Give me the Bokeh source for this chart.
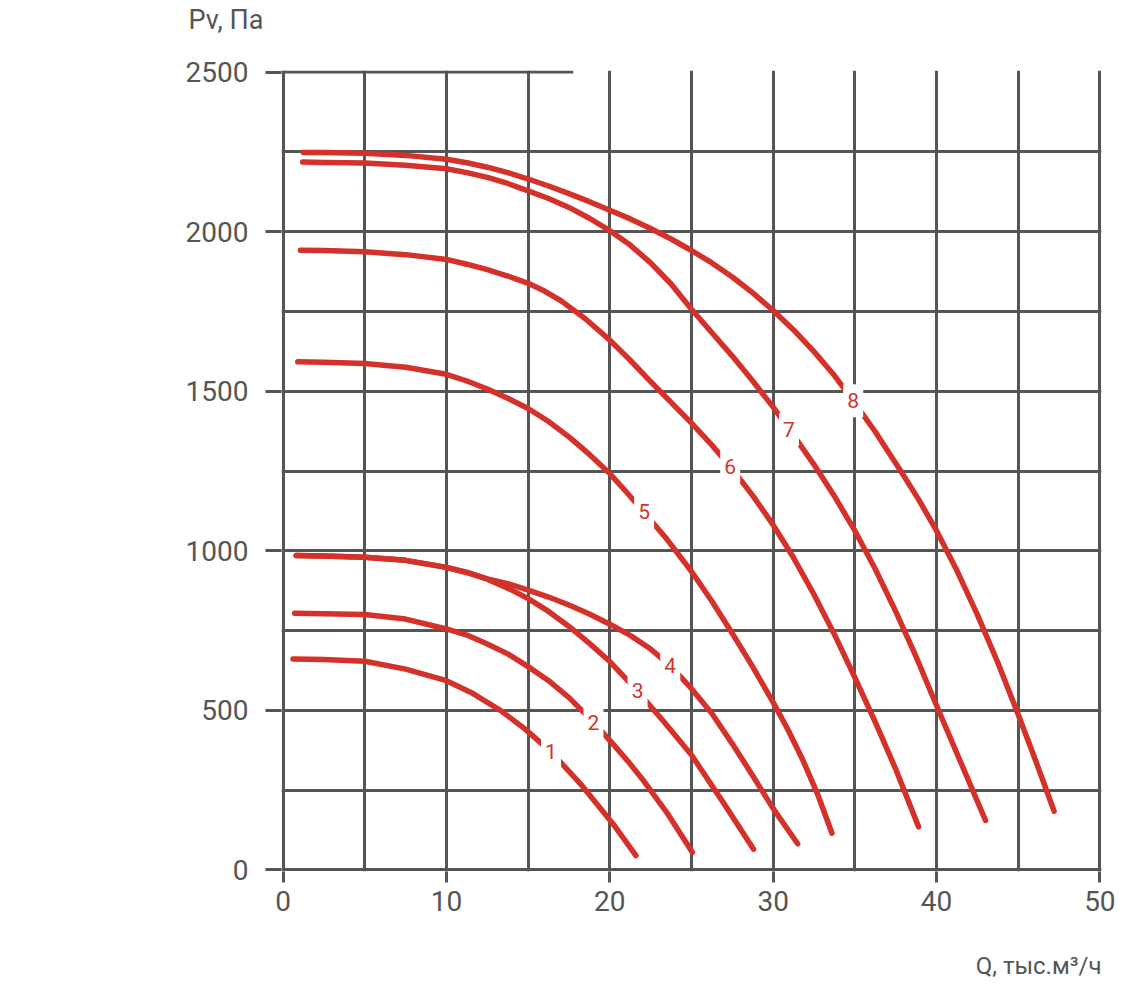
from bokeh.plotting import figure
from bokeh.models import Range1d, FixedTicker, Title
from bokeh.core.properties import value
from bokeh.embed import file_html
from bokeh.resources import INLINE

# ---- data (Q in thousand m3/h, Pv in Pa) ----
q1 = [0.6, 2.5, 5, 7.5, 10, 11.5, 13.3, 14.8, 16.4, 18.3, 20.2, 21.6]
p1 = [661, 659, 654, 629, 593, 556, 500, 442, 370, 264, 144, 45]

q2 = [0.7, 2.5, 5, 7.5, 10, 11.25, 12.5, 13.75, 15, 16.25, 17.5, 19.0, 20.2, 21.1, 22.06, 23.5, 25.05]
p2 = [804, 803, 800, 786, 755, 736, 708, 677, 637, 593, 540, 463, 394, 341, 280, 179, 55]

q3 = [0.8, 2.5, 5, 7.5, 10, 11.25, 12.5, 13.75, 15, 16.25, 17.5, 18.75, 20, 21.7, 23.3, 25, 27, 28.8]
p3 = [985, 984, 980, 970, 948, 932, 911, 883, 850, 810, 763, 710, 653, 560, 465, 360, 207, 65]

q4 = [0.8, 2.5, 5, 7.5, 10, 11.25, 12.5, 13.75, 15, 16.25, 17.5, 18.75, 20, 21.25, 22.5, 23.7, 25, 26.25, 27.5, 28.75, 30, 31.5]
p4 = [985, 984, 980, 970, 948, 932, 912, 897, 877, 855, 830, 802, 770, 735, 692, 640, 568, 490, 395, 295, 192, 82]

q5 = [0.9, 2.5, 5, 7.5, 10, 11.25, 12.5, 13.75, 15, 16.25, 17.5, 18.75, 20, 21, 22.1, 23.5, 25, 26.25, 27.5, 28.75, 30, 30.9, 31.8, 32.7, 33.6]
p5 = [1592, 1591, 1587, 1575, 1553, 1532, 1507, 1478, 1446, 1405, 1357, 1302, 1242, 1185, 1120, 1036, 935, 842, 741, 636, 525, 440, 346, 240, 115]

q6 = [1.06, 2.5, 5, 7.5, 10, 11.25, 12.5, 13.75, 15, 16, 17, 18.5, 20, 21.25, 22.5, 23.75, 25, 26.25, 27.5, 28.75, 30, 31.25, 32.5, 33.75, 35, 36.25, 37.5, 38.9]
p6 = [1942, 1941, 1937, 1928, 1913, 1898, 1881, 1861, 1838, 1814, 1784, 1727, 1660, 1597, 1530, 1465, 1400, 1331, 1256, 1173, 1081, 978, 863, 738, 603, 463, 316, 135]

q7 = [1.2, 2.5, 5, 7.5, 10, 11.25, 12.5, 13.75, 15, 16.25, 17.5, 18.75, 20, 21.25, 22.5, 23.75, 25, 26.25, 27.5, 28.75, 30, 31.25, 32.5, 33.75, 35, 36.25, 37.5, 38.75, 40, 41.5, 43]
p7 = [2218, 2217, 2215, 2208, 2197, 2185, 2170, 2151, 2128, 2104, 2076, 2042, 2003, 1958, 1902, 1836, 1757, 1683, 1610, 1532, 1450, 1362, 1270, 1171, 1063, 943, 810, 668, 515, 335, 155]

q8 = [1.24, 2.5, 5, 7.5, 10, 11.25, 12.5, 13.75, 15, 16.25, 17.5, 18.75, 20, 21.25, 22.5, 23.75, 25, 26.25, 27.5, 28.75, 30, 31.25, 32.5, 33.75, 34.9, 36.25, 37.8, 38.9, 40, 41.25, 42.5, 43.75, 45, 46.1, 47.2]
p8 = [2248, 2248, 2246, 2239, 2227, 2216, 2202, 2185, 2165, 2143, 2119, 2094, 2067, 2040, 2010, 1977, 1941, 1902, 1858, 1808, 1753, 1692, 1624, 1549, 1470, 1373, 1251, 1161, 1063, 938, 800, 650, 487, 338, 184]

label_names = ["1", "2", "3", "4", "5", "6", "7", "8"]
label_q = [16.4, 19.0, 21.7, 23.7, 22.1, 27.37, 30.97, 34.9]
label_p = [370, 463, 562, 640, 1122, 1264, 1380, 1470]

x_tick_values = [0, 10, 20, 30, 40, 50]
y_tick_values = [0, 500, 1000, 1500, 2000, 2500]
x_grid_values = [0, 5, 10, 15, 20, 25, 30, 35, 40, 45, 50]
y_grid_values = [0, 250, 500, 750, 1000, 1250, 1500, 1750, 2000, 2250]
top_rule_q = [-0.1, 17.76]
top_rule_p = 2500

y_title = "Pv, Па"
x_title = "Q, тыс.м³/ч"

# ---- styling ----
RED = "#d3312a"
GRAY = "#555555"
FONT = "Roboto"

p = figure(frame_width=820, frame_height=801,
           x_range=Range1d(-0.1, 50.1), y_range=Range1d(-5, 2505),
           output_backend="svg", toolbar_location=None,
           min_border_left=281, min_border_right=47,
           min_border_top=70, min_border_bottom=120,
           background_fill_color="white", border_fill_color="white",
           outline_line_color=None)

p.xgrid.ticker = FixedTicker(ticks=x_grid_values)
p.ygrid.ticker = FixedTicker(ticks=y_grid_values)
for g in (p.xgrid, p.ygrid):
    g.grid_line_color = GRAY
    g.grid_line_width = 3
    g.grid_line_alpha = 1.0

p.xaxis.ticker = FixedTicker(ticks=x_tick_values)
p.yaxis.ticker = FixedTicker(ticks=y_tick_values)
for ax in (p.xaxis, p.yaxis):
    ax.axis_line_color = None
    ax.major_tick_line_color = GRAY
    ax.major_tick_line_width = 3
    ax.major_tick_in = 0
    ax.minor_tick_line_color = None
    ax.major_label_text_font = FONT
    ax.major_label_text_font_size = "28px"
    ax.major_label_text_color = GRAY
p.yaxis.major_tick_out = 16
p.yaxis.major_label_standoff = 17
p.xaxis.major_tick_out = 11
p.xaxis.major_label_standoff = 8

# partial top rule at 2500
p.line(x=top_rule_q, y=[top_rule_p, top_rule_p], line_color=GRAY, line_width=3)

for qs, ps in ((q1, p1), (q2, p2), (q3, p3), (q4, p4),
               (q5, p5), (q6, p6), (q7, p7), (q8, p8)):
    p.line(x=qs, y=ps, line_color=RED, line_width=5.5,
           line_cap="round", line_join="round")

p.rect(x=label_q, y=label_p, width=20, height=33,
       width_units="screen", height_units="screen",
       fill_color="white", line_color=None)
p.text(x=label_q, y=label_p, text=label_names,
       text_align="center", text_baseline="middle",
       text_font=value(FONT), text_font_size="21px", text_color=RED)

# axis titles as side-panel titles (spacers keep them at the right distance)
p.add_layout(Title(text=" ", text_font_size="10px", standoff=22), "above")
p.add_layout(Title(text=y_title, align="left", offset=-93, standoff=0,
                   text_font=FONT, text_font_size="27px",
                   text_font_style="normal", text_color=GRAY), "above")
p.add_layout(Title(text=" ", text_font_size="10px", standoff=23), "below")
p.add_layout(Title(text=x_title, align="right", standoff=0,
                   text_font=FONT, text_font_size="24px",
                   text_font_style="normal", text_color=GRAY), "below")

open("out.html", "w").write(file_html(p, INLINE))
